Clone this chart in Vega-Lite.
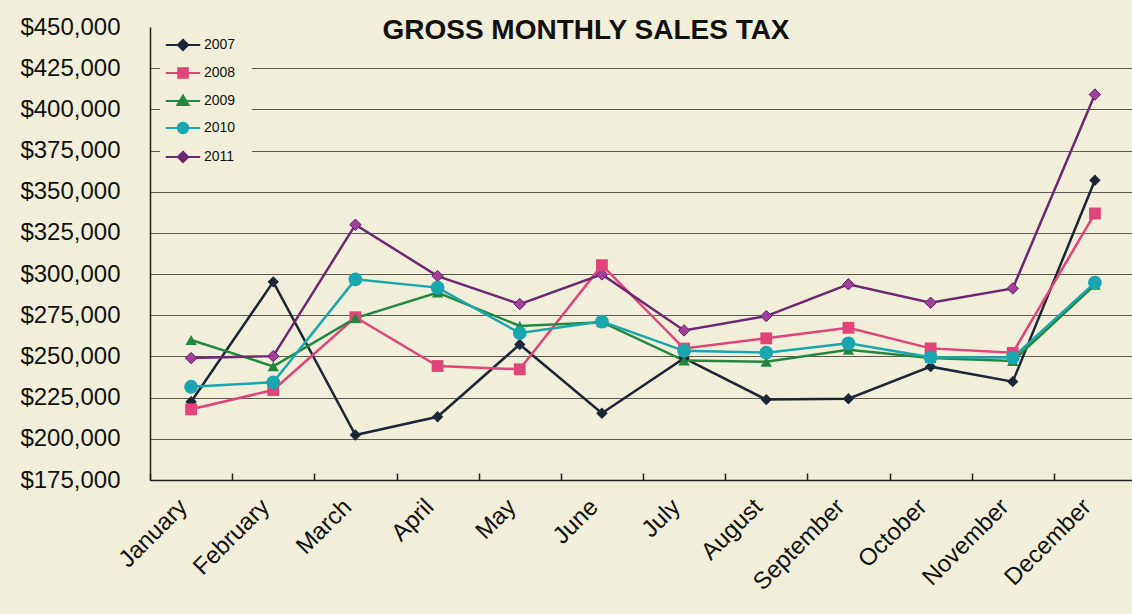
{
  "$schema": "https://vega.github.io/schema/vega-lite/v6.json",
  "width": 986,
  "height": 453,
  "autosize": {"type": "none"},
  "padding": {"left": 150, "top": 27, "right": 0, "bottom": 134},
  "background": "#f1efd9",
  "title": {
    "text": "GROSS MONTHLY SALES TAX",
    "font": "Liberation Sans",
    "fontSize": 28,
    "fontWeight": "bold",
    "color": "#111111",
    "anchor": "middle",
    "frame": "group",
    "baseline": "alphabetic",
    "offset": 0,
    "dx": -57,
    "dy": 52
  },
  "data": {
    "values": [
      {"Month": "January", "Year": "2007", "Sales": 222500},
      {"Month": "February", "Year": "2007", "Sales": 295300},
      {"Month": "March", "Year": "2007", "Sales": 202300},
      {"Month": "April", "Year": "2007", "Sales": 213400},
      {"Month": "May", "Year": "2007", "Sales": 257300},
      {"Month": "June", "Year": "2007", "Sales": 215500},
      {"Month": "July", "Year": "2007", "Sales": 249000},
      {"Month": "August", "Year": "2007", "Sales": 223800},
      {"Month": "September", "Year": "2007", "Sales": 224300},
      {"Month": "October", "Year": "2007", "Sales": 243800},
      {"Month": "November", "Year": "2007", "Sales": 234700},
      {"Month": "December", "Year": "2007", "Sales": 357000},
      {"Month": "January", "Year": "2008", "Sales": 217900},
      {"Month": "February", "Year": "2008", "Sales": 229600},
      {"Month": "March", "Year": "2008", "Sales": 273800},
      {"Month": "April", "Year": "2008", "Sales": 244200},
      {"Month": "May", "Year": "2008", "Sales": 242200},
      {"Month": "June", "Year": "2008", "Sales": 305400},
      {"Month": "July", "Year": "2008", "Sales": 254800},
      {"Month": "August", "Year": "2008", "Sales": 261000},
      {"Month": "September", "Year": "2008", "Sales": 267400},
      {"Month": "October", "Year": "2008", "Sales": 254900},
      {"Month": "November", "Year": "2008", "Sales": 252200},
      {"Month": "December", "Year": "2008", "Sales": 336800},
      {"Month": "January", "Year": "2009", "Sales": 260000},
      {"Month": "February", "Year": "2009", "Sales": 244000},
      {"Month": "March", "Year": "2009", "Sales": 273300},
      {"Month": "April", "Year": "2009", "Sales": 288800},
      {"Month": "May", "Year": "2009", "Sales": 268500},
      {"Month": "June", "Year": "2009", "Sales": 270800},
      {"Month": "July", "Year": "2009", "Sales": 247500},
      {"Month": "August", "Year": "2009", "Sales": 246800},
      {"Month": "September", "Year": "2009", "Sales": 254000},
      {"Month": "October", "Year": "2009", "Sales": 249000},
      {"Month": "November", "Year": "2009", "Sales": 247200},
      {"Month": "December", "Year": "2009", "Sales": 293500},
      {"Month": "January", "Year": "2010", "Sales": 231600},
      {"Month": "February", "Year": "2010", "Sales": 234300},
      {"Month": "March", "Year": "2010", "Sales": 296800},
      {"Month": "April", "Year": "2010", "Sales": 291800},
      {"Month": "May", "Year": "2010", "Sales": 264200},
      {"Month": "June", "Year": "2010", "Sales": 271200},
      {"Month": "July", "Year": "2010", "Sales": 253400},
      {"Month": "August", "Year": "2010", "Sales": 252300},
      {"Month": "September", "Year": "2010", "Sales": 258000},
      {"Month": "October", "Year": "2010", "Sales": 249500},
      {"Month": "November", "Year": "2010", "Sales": 249300},
      {"Month": "December", "Year": "2010", "Sales": 294800},
      {"Month": "January", "Year": "2011", "Sales": 249000},
      {"Month": "February", "Year": "2011", "Sales": 250200},
      {"Month": "March", "Year": "2011", "Sales": 330000},
      {"Month": "April", "Year": "2011", "Sales": 298800},
      {"Month": "May", "Year": "2011", "Sales": 281800},
      {"Month": "June", "Year": "2011", "Sales": 299800},
      {"Month": "July", "Year": "2011", "Sales": 265800},
      {"Month": "August", "Year": "2011", "Sales": 274500},
      {"Month": "September", "Year": "2011", "Sales": 293800},
      {"Month": "October", "Year": "2011", "Sales": 282600},
      {"Month": "November", "Year": "2011", "Sales": 291300},
      {"Month": "December", "Year": "2011", "Sales": 409000}
    ]
  },
  "encoding": {
    "x": {
      "field": "Month",
      "type": "ordinal",
      "sort": ["January", "February", "March", "April", "May", "June", "July", "August", "September", "October", "November", "December"],
      "scale": {"type": "band", "paddingInner": 0, "paddingOuter": 0},
      "axis": {
        "title": null,
        "labelAngle": -45,
        "labelAlign": "right",
        "labelBaseline": "middle",
        "labelFont": "Liberation Sans",
        "labelFontSize": 24,
        "labelColor": "#111111",
        "labelPadding": 30,
        "labelOffset": -8,
        "labelOverlap": false,
        "tickBand": "extent",
        "tickSize": -7,
        "tickColor": "#222222",
        "tickWidth": 1.5,
        "domainColor": "#222222",
        "domainWidth": 1.5,
        "grid": false
      }
    },
    "y": {
      "field": "Sales",
      "type": "quantitative",
      "scale": {"domain": [175000, 450000], "nice": false, "zero": false},
      "axis": {
        "title": null,
        "values": [175000, 200000, 225000, 250000, 275000, 300000, 325000, 350000, 375000, 400000, 425000, 450000],
        "format": "$,.0f",
        "labelFont": "Liberation Sans",
        "labelFontSize": 24,
        "labelColor": "#111111",
        "labelPadding": 30,
        "labelOverlap": false,
        "labelFlush": false,
        "ticks": false,
        "domainColor": "#222222",
        "domainWidth": 1.5,
        "grid": true,
        "gridColor": "#4a4a44",
        "gridWidth": 1,
        "gridOpacity": {"condition": {"test": "datum.value >= 450000", "value": 0}, "value": 0.9}
      }
    },
    "color": {
      "field": "Year",
      "type": "nominal",
      "scale": {
        "domain": ["2007", "2008", "2009", "2010", "2011"],
        "range": ["#1d2638", "#e0447a", "#23883f", "#1aa6ae", "#6e2872"]
      },
      "legend": {
        "title": null,
        "orient": "none",
        "legendX": 10,
        "legendY": -5,
        "padding": 16,
        "fillColor": "#f1efd9",
        "strokeColor": null,
        "symbolSize": 64,
        "symbolType": {"expr": "datum.value === '2007' || datum.value === '2011' ? 'M-4.3,0L4.3,0M0,-1.3L1.3,0L0,1.3L-1.3,0Z' : datum.value === '2008' ? 'M-4.3,0L4.3,0M-1.2,-1.2L1.2,-1.2L1.2,1.2L-1.2,1.2Z' : datum.value === '2009' ? 'M-4.3,0L4.3,0M0,-1.4L1.4,1L-1.4,1Z' : 'M-4.3,0L4.3,0M-1.3,0A1.3,1.3 0 1,0 1.3,0A1.3,1.3 0 1,0 -1.3,0Z'"},
        "symbolStrokeWidth": 2,
        "labelOffset": 14,
        "rowPadding": 9,
        "labelFont": "Liberation Sans",
        "labelFontSize": 14,
        "labelColor": "#111111",
        "encode": {
          "symbols": {
            "update": {
              "fill": {"scale": "color", "field": "value"},
              "stroke": {"scale": "color", "field": "value"},
              "strokeWidth": {"value": 2},
              "opacity": {"value": 1}
            }
          }
        }
      }
    }
  },
  "layer": [
    {"mark": {"type": "line", "strokeWidth": 2.5}},
    {
      "transform": [{"filter": "datum.Year === '2007'"}],
      "mark": {"type": "point", "filled": true, "opacity": 1, "shape": "diamond", "size": 130}
    },
    {
      "transform": [{"filter": "datum.Year === '2011'"}],
      "mark": {"type": "point", "filled": true, "opacity": 1, "shape": "diamond", "size": 130, "stroke": "#5e1f62", "strokeWidth": 1},
      "encoding": {"color": {"value": "#a3409e"}}
    },
    {
      "transform": [{"filter": "datum.Year === '2008'"}],
      "mark": {"type": "point", "filled": true, "opacity": 1, "shape": "square", "size": 140}
    },
    {
      "transform": [{"filter": "datum.Year === '2009'"}],
      "mark": {"type": "point", "filled": true, "opacity": 1, "shape": "triangle-up", "size": 130}
    },
    {
      "transform": [{"filter": "datum.Year === '2010'"}],
      "mark": {"type": "point", "filled": true, "opacity": 1, "shape": "circle", "size": 190}
    }
  ],
  "config": {"view": {"stroke": null}}
}
